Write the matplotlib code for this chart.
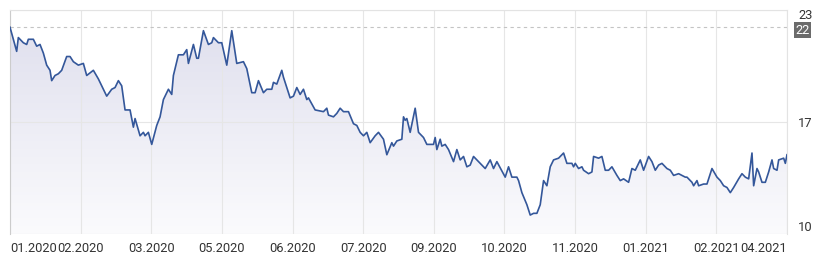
import matplotlib
matplotlib.use('Agg')
import matplotlib.pyplot as plt
import matplotlib.transforms as mtransforms
from matplotlib.colors import LinearSegmentedColormap
import numpy as np

plt.rcParams['font.family'] = ['Roboto', 'DejaVu Sans']

# day offset from start of series and closing value
days = [0, 4, 5, 8, 10, 11, 14, 16, 18, 20, 22, 24, 25, 27, 29, 31, 34, 36, 38, 41,
        44, 46, 50, 53, 58, 61, 63, 65, 67, 69, 72, 74, 75, 78, 80, 81, 83, 85, 88, 90,
        92, 95, 97, 98, 101, 104, 106, 107, 110, 112, 113, 116, 119, 121, 122, 125, 127, 130, 133, 136,
        140, 142, 145, 147, 149, 152, 154, 157, 158, 160, 163, 164, 168, 170, 172, 174, 176, 178, 179, 183,
        188, 190, 191, 194, 196, 198, 200, 203, 206, 208, 210, 212, 214, 216, 219, 221, 224, 226, 229, 230,
        232, 235, 236, 237, 238, 240, 243, 245, 248, 250, 254, 255, 256, 258, 259, 261, 263, 266, 268, 270,
        272, 274, 276, 278, 281, 285, 288, 290, 292, 297, 299, 301, 304, 305, 307, 310, 312, 314, 316, 318,
        320, 322, 324, 326, 329, 332, 334, 337, 338, 339, 341, 343, 344, 347, 349, 350, 353, 355, 357, 359,
        361, 364, 366, 368, 371, 373, 375, 378, 380, 383, 385, 387, 389, 391, 394, 396, 398, 401, 405, 406,
        409, 410, 412, 413, 416, 418, 421, 424, 426, 428, 430, 432, 434, 437, 439, 441, 443, 445, 446, 448,
        449, 451, 453, 455, 457, 458, 460, 461, 464, 465, 466]
values = [22.0, 20.6, 21.4, 21.1, 21.0, 21.3, 21.3, 20.9, 21.0, 20.5, 19.8, 19.5, 18.9, 19.2, 19.3, 19.5, 20.3, 20.3, 20.0, 19.8,
          19.9, 19.2, 19.5, 19.0, 18.0, 18.4, 18.5, 18.9, 18.6, 17.2, 17.2, 16.2, 16.7, 15.7, 15.9, 15.7, 15.9, 15.2, 16.3, 16.8,
          17.8, 18.4, 18.1, 19.2, 20.4, 20.4, 20.7, 19.9, 21.0, 20.2, 20.2, 21.8, 21.0, 21.1, 21.4, 21.1, 21.1, 19.8, 21.8, 19.9,
          20.0, 19.6, 18.2, 18.2, 18.9, 18.2, 18.4, 18.4, 18.8, 18.7, 19.5, 19.1, 17.9, 18.0, 18.5, 18.1, 18.4, 17.8, 17.9, 17.2,
          17.1, 17.3, 16.9, 16.8, 17.0, 17.3, 17.1, 17.1, 16.4, 16.3, 15.9, 15.7, 15.9, 15.3, 15.7, 15.9, 15.5, 14.6, 15.3, 15.1,
          15.4, 15.5, 16.8, 16.6, 16.7, 15.9, 17.3, 15.9, 15.6, 15.2, 15.2, 15.6, 14.9, 15.5, 15.1, 15.2, 14.9, 14.2, 14.9, 14.3,
          14.5, 13.9, 14.0, 14.5, 14.2, 13.8, 14.3, 13.8, 14.2, 13.3, 13.9, 13.3, 13.3, 13.1, 12.4, 11.7, 11.1, 11.2, 11.2, 11.7,
          13.1, 12.8, 13.9, 14.3, 14.4, 14.7, 14.1, 14.1, 13.9, 14.1, 13.8, 13.9, 13.7, 13.5, 13.6, 14.5, 14.4, 14.5, 13.7, 13.7,
          13.9, 13.4, 13.1, 13.2, 13.0, 13.8, 13.7, 14.3, 13.7, 14.5, 14.2, 13.7, 14.0, 14.1, 13.8, 13.7, 13.4, 13.5, 13.3, 13.3,
          13.0, 12.8, 13.1, 12.8, 12.9, 12.9, 13.8, 13.3, 13.1, 12.8, 12.7, 12.4, 12.7, 13.2, 13.5, 13.3, 13.2, 14.7, 12.8, 13.8,
          13.6, 13.0, 13.0, 13.6, 14.3, 13.8, 13.7, 14.3, 14.4, 14.1, 14.6]

x_labels = ['01.2020', '02.2020', '03.2020', '05.2020', '06.2020', '07.2020',
            '09.2020', '10.2020', '11.2020', '01.2021', '02.2021', '04.2021']
y_min, y_max = 10, 23
y_mid = 16.5
y_labels = ['10', '17', '23']
ref_level = 22

fig = plt.figure(figsize=(8.19, 2.67), dpi=100)
ax = fig.add_axes([10 / 819, 33 / 267, 777 / 819, 224 / 267])

x = np.array(days)
y = np.array(values)

# gradient fill under the line
cmap = LinearSegmentedColormap.from_list('fill', ['#fbfbfd', '#dedeed'])
grad = np.linspace(0, 1, 256).reshape(-1, 1)
im = ax.imshow(grad, aspect='auto', cmap=cmap, origin='lower',
               extent=[x[0], x[-1], y_min, y_max], zorder=1)
poly = ax.fill_between(x, y, y_min, color='none')
clip = poly.get_paths()[0]
im.set_clip_path(clip, transform=ax.transData)

ax.plot(x, y, color='#34579a', linewidth=1.2, zorder=3)

ax.axhline(ref_level, color='#c4c4c4', linestyle=(0, (3, 3)), linewidth=0.8, zorder=2)

ax.set_xlim(x[0], x[-1])
ax.set_ylim(y_min, y_max)

xticks = np.linspace(x[0], x[-1], len(x_labels))
ax.set_xticks(xticks)
ax.set_xticklabels(x_labels)
ax.set_yticks([y_min, y_mid, y_max])
ax.set_yticklabels(y_labels[:-1] + [''])

ax.yaxis.tick_right()
ax.tick_params(axis='both', length=0, labelsize=9.3, colors='#333333')
ax.tick_params(axis='x', pad=6)
ax.tick_params(axis='y', pad=8)
xl = ax.get_xticklabels()
xl[0].set_ha('left')
xl[-1].set_ha('right')
yl = ax.get_yticklabels()
yl[0].set_va('bottom')

ax.grid(True, color='#e6e6e6', linewidth=0.8, zorder=0)
for side in ['top', 'right']:
    ax.spines[side].set_color('#e3e3e3')
    ax.spines[side].set_linewidth(0.8)
ax.spines['left'].set_color('#cccccc')
ax.spines['left'].set_linewidth(0.8)
ax.spines['bottom'].set_visible(False)

trans = mtransforms.blended_transform_factory(ax.transAxes, ax.transData)

# top label sits just inside the axis top
top_off = mtransforms.ScaledTranslation(8 / 72, 1.0 / 72, fig.dpi_scale_trans)
ax.text(1.0, y_max, y_labels[-1], transform=trans + top_off,
        ha='left', va='top', fontsize=9.3, color='#333333')

# current value marker on the right
box_off = mtransforms.ScaledTranslation(6 / 72, -2.2 / 72, fig.dpi_scale_trans)
ax.text(1.0, ref_level, str(ref_level), transform=trans + box_off,
        ha='left', va='center', fontsize=9.3, color='white',
        bbox=dict(boxstyle='square,pad=0.12', fc='#6b6b6b', ec='none'))

fig.savefig('out.png', dpi=100)
